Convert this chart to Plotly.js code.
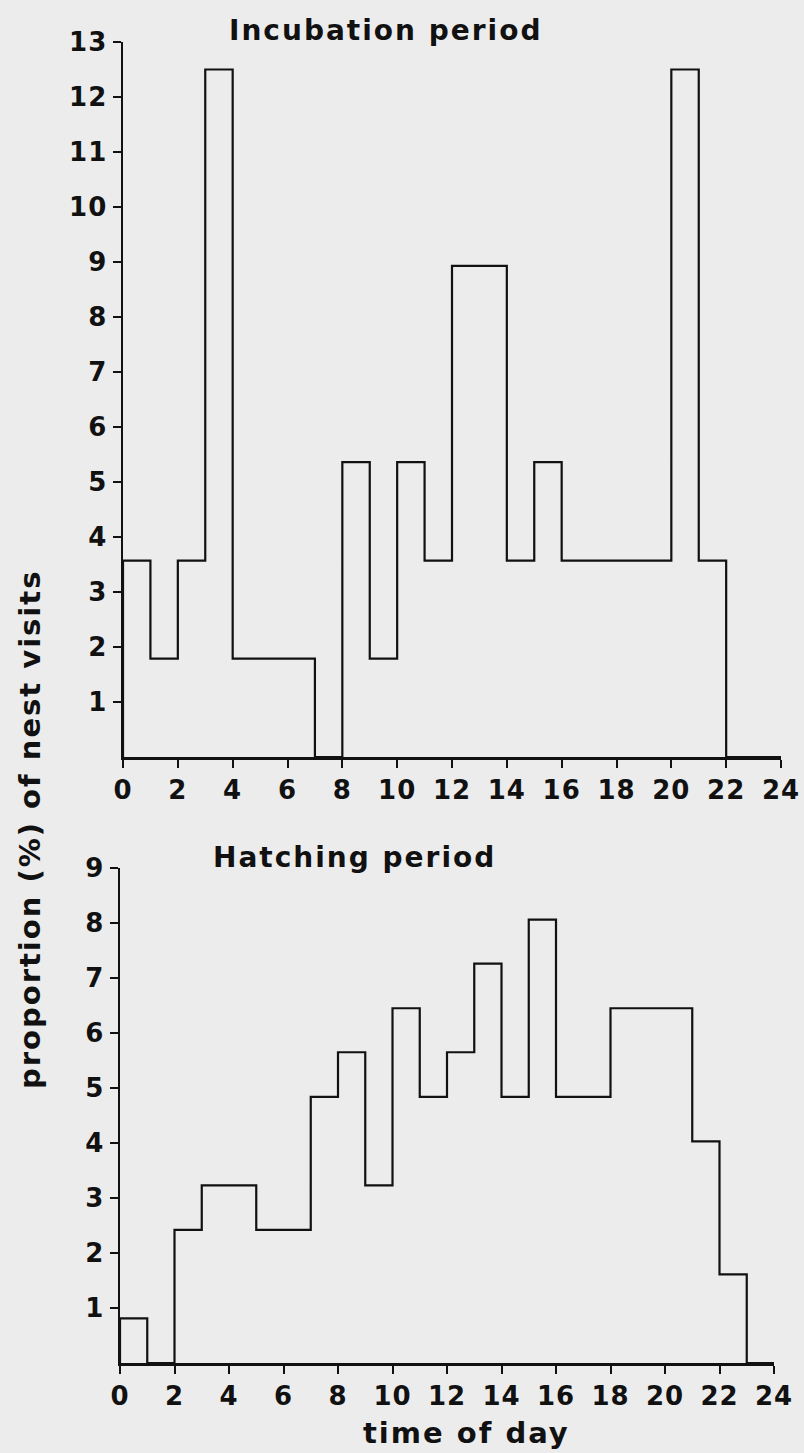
<!DOCTYPE html>
<html>
<head>
<meta charset="utf-8">
<script src="https://cdn.plot.ly/plotly-3.0.1.min.js"></script>
<style>
html,body{margin:0;padding:0;background:#ececec;}
#chart{width:804px;height:1453px;}
.annotation-text{letter-spacing:2px;}
.xtick text,.ytick text,.x2tick text,.y2tick text{letter-spacing:1px;}
</style>
</head>
<body>
<div id="chart"></div>
<script>
// hour bins 0..24
const hourEdges = [0,1,2,3,4,5,6,7,8,9,10,11,12,13,14,15,16,17,18,19,20,21,22,23,24];
// Incubation period: % of nest visits per hour (0-1 ... 23-24)
const incubation = [3.57,1.79,3.57,12.5,1.79,1.79,1.79,0,5.36,1.79,5.36,3.57,8.93,8.93,3.57,5.36,3.57,3.57,3.57,3.57,12.5,3.57,0,0];
// Hatching period: % of nest visits per hour
const hatching = [0.81,0,2.42,3.23,3.23,2.42,2.42,4.84,5.65,3.23,6.45,4.84,5.65,7.26,4.84,8.06,4.84,4.84,6.45,6.45,6.45,4.03,1.61,0];
const xTicks = [0,2,4,6,8,10,12,14,16,18,20,22,24];
const yTicksTop = [1,2,3,4,5,6,7,8,9,10,11,12,13];
const yTicksBottom = [1,2,3,4,5,6,7,8,9];
const titles = ["Incubation period","Hatching period"];
const xTitle = "time of day";
const yTitle = "proportion (%) of nest visits";

function stepTrace(vals, xa, ya){
  const x = [hourEdges[0]];
  const y = [0];
  for(let i=0;i<vals.length;i++){ x.push(hourEdges[i]); y.push(vals[i]); }
  x.push(hourEdges[hourEdges.length-1]); y.push(vals[vals.length-1]);
  return {x:x,y:y,xaxis:xa,yaxis:ya,type:'scatter',mode:'lines',
    line:{shape:'hv',color:'#111',width:2.2},hoverinfo:'skip',showlegend:false};
}

const W=804,H=1453;
const fam = 'DejaVu Sans, sans-serif';
const tickFont = {family:fam,size:26,color:'#111',weight:700};
const axBase = {showline:true,linecolor:'#111',linewidth:2.5,ticks:'outside',ticklen:8,tickwidth:2,
  tickcolor:'#111',showgrid:false,zeroline:false,fixedrange:true,tickfont:tickFont};

const layout = {
  width:W,height:H,margin:{l:0,r:0,t:0,b:0},
  paper_bgcolor:'#ececec',plot_bgcolor:'#ececec',showlegend:false,
  xaxis:Object.assign({},axBase,{domain:[123/W,781/W],range:[0,24],tickvals:xTicks,anchor:'y'}),
  yaxis:Object.assign({},axBase,{domain:[(H-757)/H,(H-42)/H],range:[0,13],tickvals:yTicksTop,anchor:'x'}),
  xaxis2:Object.assign({},axBase,{domain:[120/W,774/W],range:[0,24],tickvals:xTicks,anchor:'y2'}),
  yaxis2:Object.assign({},axBase,{domain:[(H-1363)/H,(H-868)/H],range:[0,9],tickvals:yTicksBottom,anchor:'x2'}),
  annotations:[
    {text:titles[0],xref:'paper',yref:'paper',x:385/W,y:1-30/H,xanchor:'center',yanchor:'middle',showarrow:false,
     font:{family:fam,size:28,color:'#111',weight:700}},
    {text:titles[1],xref:'paper',yref:'paper',x:354/W,y:1-857/H,xanchor:'center',yanchor:'middle',showarrow:false,
     font:{family:fam,size:28,color:'#111',weight:700}},
    {text:xTitle,xref:'paper',yref:'paper',x:466/W,y:1-1433/H,xanchor:'center',yanchor:'middle',showarrow:false,
     font:{family:fam,size:29,color:'#111',weight:700}},
    {text:yTitle,xref:'paper',yref:'paper',x:30/W,y:1-830/H,xanchor:'center',yanchor:'middle',showarrow:false,textangle:-90,
     font:{family:fam,size:29,color:'#111',weight:700}}
  ]
};

Plotly.newPlot('chart',[stepTrace(incubation,'x','y'),stepTrace(hatching,'x2','y2')],layout,{staticPlot:true,displayModeBar:false});
</script>
</body>
</html>
